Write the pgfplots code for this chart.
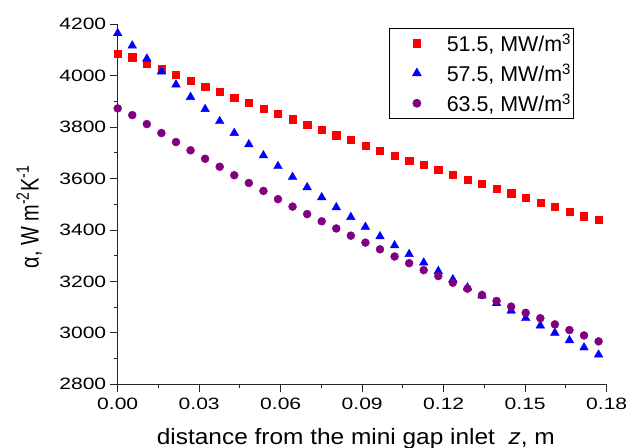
\documentclass[border=0pt]{standalone}
\usepackage{pgfplots}
\pgfplotsset{compat=1.18}
\usepackage{pgfplotstable}
\usepackage{graphicx}
\usepackage{fontspec}
\setmainfont{Liberation Sans}
\newfontfamily\tickfont{Liberation Sans}[FakeStretch=1.28]
\newfontfamily\xlabfont{Liberation Sans}[FakeStretch=1.1]

\definecolor{sqred}{RGB}{255,0,0}
\definecolor{triblue}{RGB}{0,0,255}
\definecolor{dotpurple}{RGB}{128,0,128}

% z [m], alpha [W m^-2 K^-1] for 51.5, 57.5, 63.5 MW/m^3
\pgfplotstableread{
z        a     b     c
0.00000  4087  4165  3873
0.00536  4072  4117  3847
0.01073  4048  4066  3812
0.01609  4026  4016  3777
0.02146  4004  3965  3742
0.02682  3981  3917  3710
0.03218  3957  3870  3677
0.03755  3937  3823  3646
0.04291  3914  3777  3613
0.04828  3894  3733  3583
0.05364  3872  3690  3552
0.05900  3851  3648  3520
0.06437  3831  3606  3491
0.06973  3810  3566  3462
0.07510  3790  3527  3434
0.08046  3769  3488  3406
0.08582  3750  3450  3378
0.09119  3728  3412  3351
0.09655  3708  3375  3325
0.10192  3690  3340  3297
0.10728  3671  3306  3271
0.11264  3653  3273  3244
0.11801  3633  3240  3221
0.12337  3615  3208  3195
0.12874  3597  3176  3172
0.13410  3579  3145  3147
0.13946  3561  3115  3124
0.14483  3543  3086  3102
0.15019  3525  3057  3078
0.15556  3506  3028  3057
0.16092  3491  3000  3033
0.16628  3472  2971  3011
0.17165  3454  2943  2990
0.17701  3439  2915  2967
}\alphadata

\begin{document}
\begin{tikzpicture}
\begin{axis}[
    at={(0,0)}, anchor=south west,
    scale only axis,
    width=489bp, height=360bp,
    xmin=0, xmax=0.18,
    ymin=2800, ymax=4200,
    axis x line*=bottom,
    axis y line*=left,
    axis line style={line width=1.2bp, black!85},
    every tick/.style={line width=1bp, black!85},
    tick align=outside,
    major tick length=8bp,
    minor tick length=4bp,
    xtick={0,0.03,0.06,0.09,0.12,0.15,0.18},
    ytick={2800,3000,3200,3400,3600,3800,4000,4200},
    minor x tick num=1,
    minor y tick num=1,
    /pgf/number format/assume math mode=true,
    x tick label style={/pgf/number format/fixed, /pgf/number format/zerofill, /pgf/number format/precision=2, yshift=-2bp},
    y tick label style={/pgf/number format/1000 sep={}},
    tick label style={font=\tickfont\fontsize{16.5}{18}\selectfont},
    xlabel={distance from the mini gap inlet \ \textit{z}, m},
    xlabel style={font=\xlabfont\fontsize{22.3}{26}\selectfont, at={(axis description cs:0.487,-0.166)}, anchor=base},
    ylabel={\scalebox{1}[1.28]{α, W m\textsuperscript{-2}K\textsuperscript{-1}}},
    ylabel style={font=\fontsize{20}{24}\selectfont, at={(axis description cs:-0.181,0.465)}, anchor=center},
    clip=false,
    legend cell align=left,
    legend image code/.code={
        \path (0bp,0bp) (55bp,0bp);
        \draw[#1] plot coordinates {(27.5bp,0bp)};
    },
    legend style={
        at={(0.932,0.989)}, anchor=north east,
        draw=black, line width=0.8bp,
        font=\fontsize{21.5}{24}\selectfont,
        inner xsep=0bp, inner ysep=3bp,
        row sep=6.5bp,
        /tikz/every even column/.append style={column sep=4bp},
    },
]
\addplot[only marks, mark=square*, mark size=3.6bp, color=sqred] table[x=z, y=a] {\alphadata};
\addplot[only marks, mark=triangle*, mark size=5bp, color=triblue] table[x=z, y=b] {\alphadata};
\addplot[only marks, mark=*, mark size=4bp, color=dotpurple] table[x=z, y=c] {\alphadata};
\legend{{51.5, MW/m\textsuperscript{3}}, {57.5, MW/m\textsuperscript{3}}, {63.5, MW/m\textsuperscript{3}}}
\end{axis}
\pgfresetboundingbox
\path[use as bounding box] (-117.7bp,-63.7bp) rectangle (522.3bp,384.3bp);
\end{tikzpicture}
\end{document}
